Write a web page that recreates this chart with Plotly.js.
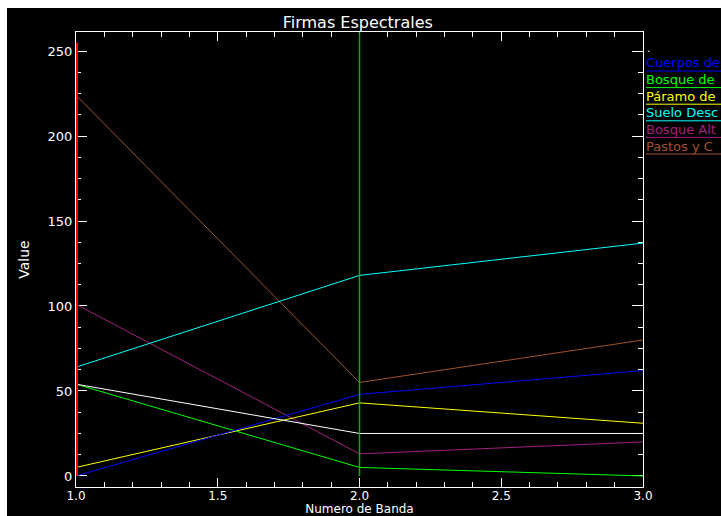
<!DOCTYPE html>
<html>
<head>
<meta charset="utf-8">
<script src="https://cdn.plot.ly/plotly-3.0.1.min.js"></script>
<style>
  html, body { margin: 0; padding: 0; background: #ffffff; width: 721px; height: 516px; overflow: hidden; }
  #chart { position: absolute; left: 7px; top: 8px; width: 714px; height: 508px; }
</style>
</head>
<body>
<div id="chart"></div>
<script>
// ---- data ----
var bands = [1, 2, 3];
var seriesNames = ["", "Cuerpos de", "Bosque de", "Páramo de", "Suelo Desc", "Bosque Alt", "Pastos y C"];
var seriesColors = ["#ffffff", "#0000ff", "#00ff00", "#ffff00", "#00ffff", "#a0207f", "#a0522d"];
var whiteVals  = [54, 25, 25];
var blueVals   = [0, 48, 62];
var greenVals  = [54, 5, 0];
var yellowVals = [5, 43, 31];
var cyanVals   = [64, 118, 137];
var purpleVals = [101, 13, 20];
var brownVals  = [224, 55, 80];
var seriesVals = [whiteVals, blueVals, greenVals, yellowVals, cyanVals, purpleVals, brownVals];
var redMarkX = [1, 1], redMarkY = [0, 255];
var greenMarkX = [2, 2], greenMarkY = [0, 261];
var xTicks = [1.0, 1.5, 2.0, 2.5, 3.0];
var yTicks = [0, 50, 100, 150, 200, 250];

// ---- layout helpers (pixel geometry of the reference) ----
var L = 69, R = 78, T = 24, B = 29;     // margins inside the 714x508 div
var W = 714 - L - R, H = 508 - T - B;
function px(x) { return (x - 76) / W; }     // page px -> paper x
function py(y) { return (487 - y) / H; }    // page px -> paper y
var FONT = "DejaVu Sans, Liberation Sans, sans-serif";

var traces = [];
var drawOrder = [6, 5, 4, 3, 2, 1, 0];
drawOrder.forEach(function (i) {
  traces.push({
    x: bands, y: seriesVals[i], type: "scatter", mode: "lines",
    line: { color: seriesColors[i], width: 1 }, hoverinfo: "skip", showlegend: false
  });
});
traces.push({ x: redMarkX, y: redMarkY, type: "scatter", mode: "lines",
  line: { color: "#ff0000", width: 4 }, showlegend: false, hoverinfo: "skip" });
traces.push({ x: greenMarkX, y: greenMarkY, type: "scatter", mode: "lines",
  line: { color: "#00b400", width: 1.5 }, showlegend: false, hoverinfo: "skip" });

var annotations = [];
var shapes = [];
seriesNames.forEach(function (name, i) {
  if (i === 0) {
    annotations.push({ xref: "paper", yref: "paper", x: px(645), y: py(49),
      text: ".", showarrow: false, xanchor: "left", yanchor: "middle",
      font: { family: FONT, size: 10, color: seriesColors[i] } });
    return;
  }
  var yLine = 71 + 16.6 * (i - 1);
  annotations.push({ xref: "paper", yref: "paper", x: px(644), y: py(yLine - 8),
    text: name, showarrow: false, xanchor: "left", yanchor: "middle",
    font: { family: FONT, size: 13, color: seriesColors[i] } });
  shapes.push({ type: "line", xref: "paper", yref: "paper",
    x0: px(646), x1: px(740), y0: py(yLine), y1: py(yLine),
    line: { color: seriesColors[i], width: 1 } });
});

var axisCommon = {
  showline: true, linecolor: "#ffffff", linewidth: 1, mirror: "ticks",
  ticks: "inside", tickcolor: "#ffffff", tickwidth: 1,
  showgrid: false, zeroline: false, layer: "below traces"
};

var layout = {
  width: 714, height: 508,
  margin: { l: L, r: R, t: T, b: B, pad: 0 },
  paper_bgcolor: "#000000", plot_bgcolor: "#000000",
  showlegend: false,
  title: { text: "Firmas Espectrales", x: 0.497, xref: "paper", xanchor: "center",
    y: 1 - 14 / 508, yanchor: "middle",
    font: { family: FONT, size: 16, color: "#ffffff" } },
  xaxis: Object.assign({}, axisCommon, {
    range: [1, 3], tickvals: xTicks, ticktext: xTicks.map(function (v) { return v.toFixed(1); }),
    ticklen: 9, ticklabelstandoff: -2,
    tickfont: { family: FONT, size: 12, color: "#ffffff" },
    minor: { dtick: 0.1, ticklen: 5, tickcolor: "#ffffff", ticks: "inside", showgrid: false },
    title: { text: "Numero de Banda", standoff: 3, font: { family: FONT, size: 12, color: "#ffffff" } }
  }),
  yaxis: Object.assign({}, axisCommon, {
    range: [-6.5, 261.2], tickvals: yTicks, ticklen: 11,
    tickfont: { family: FONT, size: 13, color: "#ffffff" },
    minor: { dtick: 12.5, tick0: 0, ticklen: 5, tickcolor: "#ffffff", ticks: "inside", showgrid: false },
    title: { text: "Value", standoff: 14, font: { family: FONT, size: 14, color: "#ffffff" } }
  }),
  annotations: annotations,
  shapes: shapes
};

Plotly.newPlot("chart", traces, layout, { staticPlot: true, displayModeBar: false });
</script>
</body>
</html>
